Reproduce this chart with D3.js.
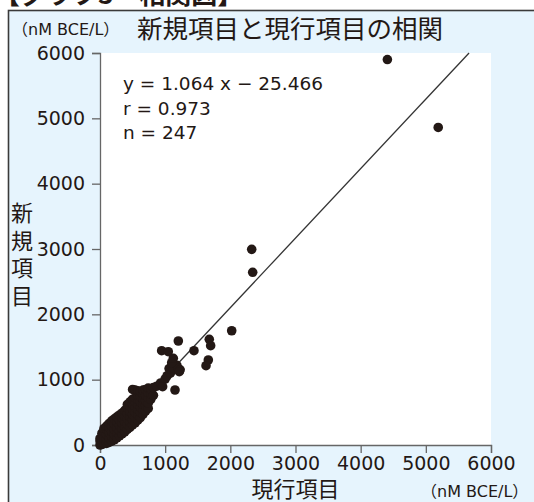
<!DOCTYPE html>
<html>
<head>
<meta charset="utf-8">
<script src="https://cdn.jsdelivr.net/npm/d3@7"></script>
<style>
  body { margin: 0; background: #fff; }
  text { font-family: "DejaVu Sans", sans-serif; fill: #231815; }
  .jp { font-family: "Noto Sans CJK JP", sans-serif; }
</style>
</head>
<body>
<script>
//global sizes
var w = 534;
var h = 502;

//tick values for both axes
var xTicks = [0, 1000, 2000, 3000, 4000, 5000, 6000];
var yTicks = [0, 1000, 2000, 3000, 4000, 5000, 6000];

//main cluster of samples (現行項目, 新規項目)
var clusterPoints = [
  [0,0],[0,60],[0,100],[30,10],[30,80],[30,180],[60,20],[60,100],[60,200],[60,250],
  [100,25],[100,90],[100,160],[100,240],[100,290],[140,40],[140,110],[140,190],[140,270],[140,330],
  [180,60],[180,130],[180,210],[180,290],[180,370],[220,80],[220,160],[220,240],[220,320],[220,400],
  [260,110],[260,190],[260,260],[260,350],[260,430],[300,140],[300,220],[300,300],[300,380],[300,460],
  [340,170],[340,250],[340,330],[340,410],[340,490],[380,200],[380,280],[380,360],[380,440],[380,530],
  [420,240],[420,320],[420,400],[420,480],[420,570],[420,620],[460,270],[460,350],[460,430],[460,510],
  [460,590],[460,660],[500,310],[500,390],[500,470],[500,550],[500,630],[500,700],[500,850],[540,340],
  [540,420],[540,500],[540,580],[540,660],[540,720],[540,840],[580,380],[580,460],[580,540],[580,620],
  [580,700],[580,760],[580,830],[620,420],[620,500],[620,580],[620,660],[620,740],[620,820],[660,470],
  [660,540],[660,620],[660,700],[660,780],[660,840],[700,520],[700,600],[700,680],[700,760],[700,850],
  [740,560],[740,640],[740,720],[740,800],[740,870],[780,700],[780,780],[780,860],[820,760],[820,880],
  [870,900],[930,950],[1000,1010],[1030,1060],[1080,1100],[1060,1170],[1120,1180],[1180,1220],[1200,1170],
  [1230,1150],[1100,1260],[1125,1327]
];

//scattered samples away from the cluster
var outlierPoints = [
  [961,892],[1151,842],[946,1443],[1048,1428],[1202,1592],[1442,1443],[1677,1618],[1698,1520],
  [1662,1301],[1627,1214],[1217,1122],[2021,1749],[2328,2995],[2343,2643],[4410,5900],[5190,4860]
];

//regression y = 1.064x - 25.466
var slope = 1.064;
var intercept = -25.466;
var statLines = ["y = 1.064 x \u2212 25.466", "r = 0.973", "n = 247"];

//create main svg element
var svg = d3.select("body")
            .append("svg")
            .attr("width", w)
            .attr("height", h);

//page heading, cut off at the top edge
svg.append("text")
  .attr("class", "jp")
  .attr("x", -6)
  .attr("y", 4)
  .attr("font-size", 26)
  .attr("font-weight", "bold")
  .text("【グラフ3　相関図】");

//light blue panel with a dark frame
svg.append("rect")
  .attr("x", 8.5)
  .attr("y", 10.5)
  .attr("width", 600)
  .attr("height", 600)
  .attr("fill", "#e6f4fd")
  .attr("stroke", "#3a3a3a")
  .attr("stroke-width", 1.6);

var x = d3.scaleLinear().domain([0, 6000]).range([100, 491]);
var y = d3.scaleLinear().domain([0, 6000]).range([445, 53]);

//white plot area
svg.append("rect")
  .attr("x", x(0))
  .attr("y", y(6000))
  .attr("width", x(6000) - x(0))
  .attr("height", y(0) - y(6000))
  .attr("fill", "#fff");

//axes
var xAxis = svg.append("g")
  .attr("transform", "translate(0," + y(0) + ")")
  .call(d3.axisBottom(x).tickValues(xTicks).tickSize(8).tickPadding(4).tickFormat(d3.format("d")));
var yAxis = svg.append("g")
  .attr("transform", "translate(" + x(0) + ",0)")
  .call(d3.axisLeft(y).tickValues(yTicks).tickSize(8).tickPadding(7).tickFormat(d3.format("d")));

[xAxis, yAxis].forEach(function(a) {
  a.select(".domain").attr("stroke", "#666").attr("stroke-width", 1.3);
  a.selectAll(".tick line").attr("stroke", "#666").attr("stroke-width", 1.3);
  a.selectAll(".tick text")
    .attr("font-family", "DejaVu Sans")
    .attr("font-size", 19)
    .attr("fill", "#231815");
});

//regression line, from y = 0 up to the top of the plot
var x0 = -intercept / slope;
var x1 = (6000 - intercept) / slope;
svg.append("line")
  .attr("x1", x(x0))
  .attr("y1", y(slope * x0 + intercept))
  .attr("x2", x(x1))
  .attr("y2", y(slope * x1 + intercept))
  .attr("stroke", "#333")
  .attr("stroke-width", 1.3);

//dots
var allPoints = clusterPoints.concat(outlierPoints);
svg.selectAll("circle.pt")
  .data(allPoints)
  .enter().append("circle")
  .attr("class", "pt")
  .attr("cx", function(d) { return x(d[0]); })
  .attr("cy", function(d) { return y(d[1]); })
  .attr("r", 4.8)
  .attr("fill", "#231815");

//statistics text
svg.selectAll("text.stat")
  .data(statLines)
  .enter().append("text")
  .attr("class", "stat")
  .attr("x", 123)
  .attr("y", function(d, i) { return 90 + i * 24.5; })
  .attr("font-size", 18.5)
  .text(function(d) { return d; });

//title and units
svg.append("text")
  .attr("class", "jp")
  .attr("x", 137)
  .attr("y", 38)
  .attr("font-size", 25.5)
  .text("新規項目と現行項目の相関");

var unitTop = svg.append("text")
  .attr("x", 12)
  .attr("y", 35)
  .attr("font-size", 16);
unitTop.append("tspan").attr("class", "jp").text("（");
unitTop.append("tspan").text("nM BCE/L");
unitTop.append("tspan").attr("class", "jp").text("）");

var unitBottom = svg.append("text")
  .attr("x", 421)
  .attr("y", 497)
  .attr("font-size", 16);
unitBottom.append("tspan").attr("class", "jp").text("（");
unitBottom.append("tspan").text("nM BCE/L");
unitBottom.append("tspan").attr("class", "jp").text("）");

//x axis title
svg.append("text")
  .attr("class", "jp")
  .attr("x", (x(0) + x(6000)) / 2)
  .attr("y", 497)
  .attr("text-anchor", "middle")
  .attr("font-size", 22)
  .text("現行項目");

//y axis title, written vertically
svg.append("text")
  .attr("class", "jp")
  .attr("x", 22)
  .attr("y", 202)
  .attr("font-size", 22)
  .style("writing-mode", "vertical-rl")
  .style("letter-spacing", "5.5px")
  .text("新規項目");
</script>
</body>
</html>
